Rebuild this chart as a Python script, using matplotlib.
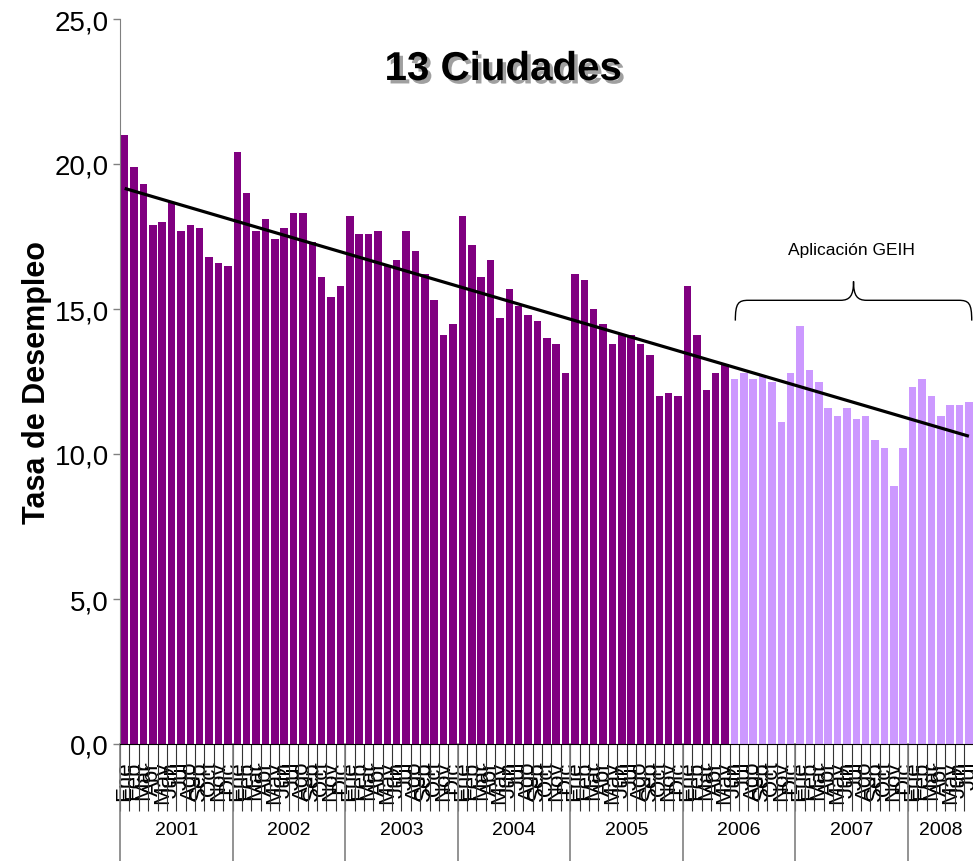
import numpy as np
import matplotlib
matplotlib.use('Agg')
import matplotlib.pyplot as plt
from matplotlib import patheffects
from matplotlib.path import Path
from matplotlib.patches import PathPatch
import matplotlib.transforms as mtransforms
from matplotlib.ticker import FuncFormatter, FixedLocator

# ---------------- data ----------------
years = ['2001', '2002', '2003', '2004', '2005', '2006', '2007', '2008']
months_per_year = [12, 12, 12, 12, 12, 12, 12, 7]
month_names = ['Ene', 'Feb', 'Mar', 'Abr', 'May', 'Jun', 'Jul', 'Ago', 'Sep', 'Oct', 'Nov', 'Dic']

# Encuesta Continua de Hogares (Ene 2001 - May 2006)
ech_values = [21.0, 19.9, 19.3, 17.9, 18.0, 18.7, 17.7, 17.9, 17.8, 16.8, 16.6, 16.5,
              20.4, 19.0, 17.7, 18.1, 17.4, 17.8, 18.3, 18.3, 17.3, 16.1, 15.4, 15.8,
              18.2, 17.6, 17.6, 17.7, 16.5, 16.7, 17.7, 17.0, 16.2, 15.3, 14.1, 14.5,
              18.2, 17.2, 16.1, 16.7, 14.7, 15.7, 15.1, 14.8, 14.6, 14.0, 13.8, 12.8,
              16.2, 16.0, 15.0, 14.5, 13.8, 14.1, 14.1, 13.8, 13.4, 12.0, 12.1, 12.0,
              15.8, 14.1, 12.2, 12.8, 13.1]
# Gran Encuesta Integrada de Hogares (Jun 2006 - Jul 2008)
geih_values = [12.6, 12.8, 12.6, 12.7, 12.5, 11.1, 12.8,
               14.4, 12.9, 12.5, 11.6, 11.3, 11.6, 11.2, 11.3, 10.5, 10.2, 8.9, 10.2,
               12.3, 12.6, 12.0, 11.3, 11.7, 11.7, 11.8]

title_text = '13 Ciudades'
ylabel_text = 'Tasa de Desempleo'
brace_text = 'Aplicación GEIH'

# ---------------- figure ----------------
W, H = 973, 862
fig = plt.figure(figsize=(W / 100, H / 100), dpi=100)
left_px, right_px, top_px, bottom_px = 120, 973.6, 20, 745
ax = fig.add_axes([left_px / W, (H - bottom_px) / H, (right_px - left_px) / W, (bottom_px - top_px) / H])

font = ['Liberation Sans', 'DejaVu Sans']

n_ech = len(ech_values)
n_geih = len(geih_values)
x_ech = np.arange(n_ech)
x_geih = np.arange(n_ech, n_ech + n_geih)
all_vals = np.array(ech_values + geih_values)
x_all = np.arange(len(all_vals))

ax.bar(x_ech, ech_values, width=0.8, color='#800080', zorder=2)
ax.bar(x_geih, geih_values, width=0.8, color='#CC99FF', zorder=2)

# linear trend line
coef = np.polyfit(x_all, all_vals, 1)
ax.plot(x_all[[0, -1]], np.polyval(coef, x_all[[0, -1]]), color='black', lw=2.3, zorder=3,
        solid_capstyle='butt')

ax.set_xlim(-0.5, len(all_vals) - 0.5)
ax.set_ylim(0, 25)

# y axis
ax.set_yticks(np.arange(0, 26, 5))
ax.yaxis.set_major_formatter(FuncFormatter(lambda v, p: f'{v:.1f}'.replace('.', ',')))
ax.tick_params(axis='y', length=5, width=1, color='#808080', pad=3, labelsize=20)
for lab in ax.get_yticklabels():
    lab.set_fontfamily(font)
ax.spines['left'].set_color('#808080')
ax.spines['right'].set_visible(False)
ax.spines['top'].set_visible(False)
ax.spines['bottom'].set_color('black')

ax.set_ylabel(ylabel_text, fontsize=22, fontweight='bold', family=font, labelpad=2)

# x axis: month labels
labels = []
for y, n in zip(years, months_per_year):
    labels += month_names[:n]
ax.set_xticks(x_all)
ax.set_xticklabels(labels, rotation=90, fontsize=16, family=font)
ax.tick_params(axis='x', which='major', length=0, pad=12)
ax.xaxis.set_minor_locator(FixedLocator(np.arange(len(all_vals) + 1) - 0.5))
ax.tick_params(axis='x', which='minor', length=48, width=0.8, color='#333333', direction='out')

# year separators and labels
trans = mtransforms.blended_transform_factory(ax.transData, ax.transAxes)
ybot = -(H - bottom_px) / (bottom_px - top_px)
start = 0
for y, n in zip(years, months_per_year):
    ax.plot([start - 0.5, start - 0.5], [0, ybot], transform=trans, color='#808080', lw=1.2,
            clip_on=False)
    ax.text(start + n / 2 - 0.5, -(831 - bottom_px) / (bottom_px - top_px), y, transform=trans,
            ha='center', va='center', fontsize=14, family=font)
    start += n

# title
fig.text(503 / W, 1 - 70 / H, title_text, ha='center', va='center', fontsize=29,
         fontweight='bold', family=font,
         path_effects=[patheffects.SimplePatchShadow(offset=(2.5, -2.5), shadow_rgbFace='#A0A0A0', alpha=1),
                       patheffects.Normal()])

# brace annotation for GEIH period
bl, br = n_ech + 0.1, len(all_vals) - 0.7
bm = (bl + br) / 2
y_end, y_flat, y_tip = 14.6, 15.3, 15.95
dx = 1.4
verts = [(bl, y_end), (bl, y_flat - 0.1), (bl + 0.3, y_flat), (bl + dx, y_flat),
         (bm - dx, y_flat),
         (bm - 0.4, y_flat), (bm, y_flat + 0.15), (bm, y_tip),
         (bm, y_flat + 0.15), (bm + 0.4, y_flat), (bm + dx, y_flat),
         (br - dx, y_flat),
         (br - 0.3, y_flat), (br, y_flat - 0.1), (br, y_end)]
codes = [Path.MOVETO, Path.CURVE4, Path.CURVE4, Path.CURVE4,
         Path.LINETO,
         Path.CURVE4, Path.CURVE4, Path.CURVE4,
         Path.CURVE4, Path.CURVE4, Path.CURVE4,
         Path.LINETO,
         Path.CURVE4, Path.CURVE4, Path.CURVE4]
ax.add_patch(PathPatch(Path(verts, codes), facecolor='none', edgecolor='black', lw=1, zorder=4,
                       clip_on=False))
ax.text(bm - 0.2, 17.05, brace_text, ha='center', va='center', fontsize=12.5, family=font)

fig.savefig('out.png', dpi=100)
